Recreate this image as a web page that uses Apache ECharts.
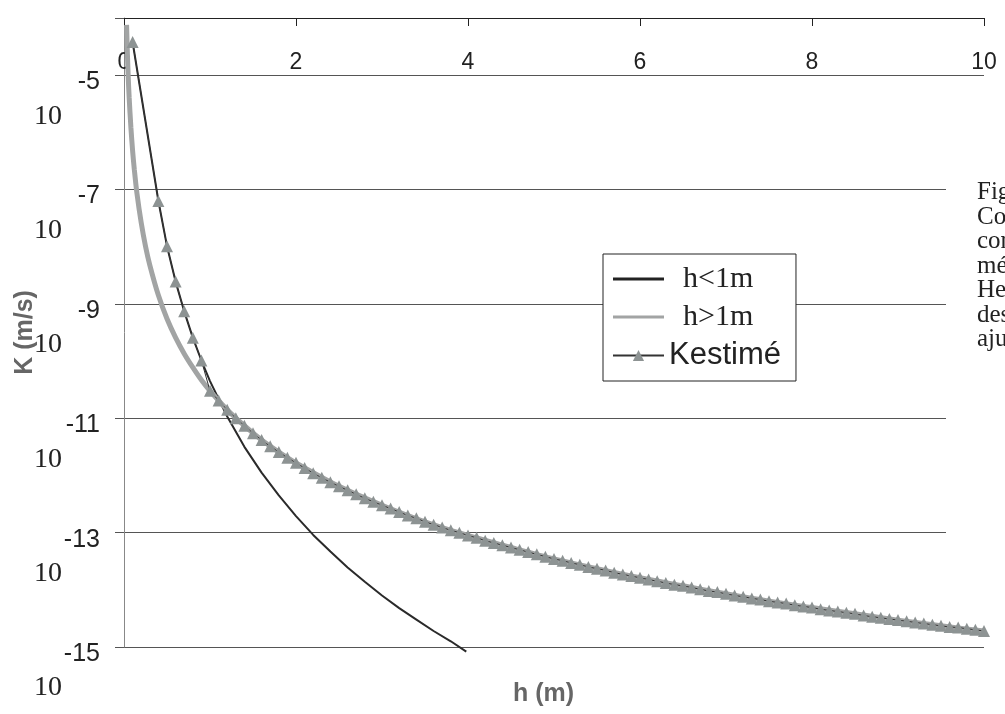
<!DOCTYPE html>
<html><head><meta charset="utf-8">
<script src="https://cdn.jsdelivr.net/npm/echarts@6/dist/echarts.min.js"></script>
<style>html,body{margin:0;padding:0;background:#fff}#c{width:1005px;height:714px}</style>
</head><body><div id="c"></div>
<script>
// x ticks (h in m) and y ticks (exponent of K in m/s)
const xTicks = [0, 2, 4, 6, 8, 10];
const yExponents = [-15, -13, -11, -9, -7, -5];

// h<1m curve: h (m) and log10 K (m/s)
const hUnder = [0.1, 0.4, 0.5, 0.6, 0.7, 0.8, 0.9, 1.0, 1.2, 1.4, 1.6, 1.8, 2.0, 2.2, 2.4, 2.6, 2.8, 3.0, 3.2, 3.4, 3.6, 3.8, 3.98];
const logKUnder = [-4.42, -7.2, -7.99, -8.61, -9.13, -9.59, -9.99, -10.35, -10.97, -11.50, -11.95, -12.35, -12.71, -13.04, -13.33, -13.61, -13.86, -14.10, -14.32, -14.52, -14.72, -14.90, -15.08];

// h>1m curve
const hOver = [0.03, 0.04, 0.05, 0.06, 0.08, 0.1, 0.12, 0.15, 0.2, 0.25, 0.3, 0.4, 0.5, 0.6, 0.7, 0.8, 0.9, 1.0, 1.2, 1.4, 1.6, 1.8, 2.0, 2.5, 3.0, 3.5, 4.0, 4.5, 5.0, 5.5, 6.0, 6.5, 7.0, 7.5, 8.0, 8.5, 9.0, 9.5, 10];
const logKOver = [-4.12, -4.65, -5.06, -5.39, -5.91, -6.32, -6.65, -7.06, -7.58, -7.99, -8.32, -8.85, -9.26, -9.59, -9.87, -10.11, -10.33, -10.52, -10.85, -11.13, -11.38, -11.59, -11.78, -12.19, -12.52, -12.81, -13.05, -13.26, -13.46, -13.63, -13.79, -13.93, -14.07, -14.20, -14.31, -14.42, -14.53, -14.63, -14.72];

// Kestimé points
const hEst = [0.1, 0.4, 0.5, 0.6, 0.7, 0.8, 0.9,
  1.0, 1.1, 1.2, 1.3, 1.4, 1.5, 1.6, 1.7, 1.8, 1.9,
  2.0, 2.1, 2.2, 2.3, 2.4, 2.5, 2.6, 2.7, 2.8, 2.9,
  3.0, 3.1, 3.2, 3.3, 3.4, 3.5, 3.6, 3.7, 3.8, 3.9,
  4.0, 4.1, 4.2, 4.3, 4.4, 4.5, 4.6, 4.7, 4.8, 4.9,
  5.0, 5.1, 5.2, 5.3, 5.4, 5.5, 5.6, 5.7, 5.8, 5.9,
  6.0, 6.1, 6.2, 6.3, 6.4, 6.5, 6.6, 6.7, 6.8, 6.9,
  7.0, 7.1, 7.2, 7.3, 7.4, 7.5, 7.6, 7.7, 7.8, 7.9,
  8.0, 8.1, 8.2, 8.3, 8.4, 8.5, 8.6, 8.7, 8.8, 8.9,
  9.0, 9.1, 9.2, 9.3, 9.4, 9.5, 9.6, 9.7, 9.8, 9.9, 10.0];
const logKEst = [-4.42, -7.2, -7.99, -8.61, -9.13, -9.59, -9.99,
  -10.52, -10.69, -10.85, -11.00, -11.13, -11.26, -11.38, -11.49, -11.59, -11.69,
  -11.78, -11.87, -11.96, -12.04, -12.12, -12.19, -12.26, -12.33, -12.40, -12.46,
  -12.52, -12.58, -12.64, -12.70, -12.75, -12.81, -12.86, -12.91, -12.96, -13.00,
  -13.05, -13.09, -13.14, -13.18, -13.22, -13.26, -13.30, -13.34, -13.38, -13.42,
  -13.46, -13.49, -13.53, -13.56, -13.60, -13.63, -13.66, -13.70, -13.73, -13.76,
  -13.79, -13.82, -13.85, -13.88, -13.91, -13.93, -13.96, -13.99, -14.02, -14.04,
  -14.07, -14.10, -14.12, -14.15, -14.17, -14.20, -14.22, -14.24, -14.27, -14.29,
  -14.31, -14.34, -14.36, -14.38, -14.40, -14.42, -14.45, -14.47, -14.49, -14.51,
  -14.53, -14.55, -14.57, -14.59, -14.61, -14.63, -14.65, -14.66, -14.68, -14.70, -14.72];

const seriesNames = ['h<1m', 'h>1m', 'Kestimé'];
const xTitle = 'h (m)';
const yTitle = 'K (m/s)';
const sideNote = ['Fig', 'Co', 'cor', 'mé', 'He', 'des', 'aju'];

const pair = (xs, ys) => xs.map((x, i) => [x, ys[i]]);

const chart = echarts.init(document.getElementById('c'), null, {renderer: 'canvas'});

const graphics = [
  {type: 'rect', shape: {x: 946, y: 150, width: 60, height: 410}, style: {fill: '#fff'}, z: 50},
  {type: 'text', left: 513, top: 682, z: 60,
   style: {text: xTitle, font: 'bold 25px "Liberation Sans", Arial, sans-serif', fill: '#666'}}
];
sideNote.forEach((t, i) => {
  graphics.push({type: 'text', left: 977, top: 180 + i * 24.5, z: 60,
    style: {text: t, font: '25px "Liberation Serif", "Times New Roman", serif', fill: '#222'}});
});

const lineIcon = 'path://M0,0H50V3H0Z';

chart.setOption({
  animation: false,
  backgroundColor: '#fff',
  grid: {left: 124, right: 21, top: 18, bottom: 67, containLabel: false, outerBoundsMode: 'none'},
  xAxis: {
    type: 'value', position: 'top', min: 0, max: 10, interval: 2,
    axisLine: {show: true, onZero: false, lineStyle: {color: '#222', width: 1}},
    axisTick: {show: true, inside: true, length: 8, lineStyle: {color: '#222'}},
    axisLabel: {inside: true, margin: 33, fontSize: 23, color: '#222',
      fontFamily: '"Liberation Sans", Arial, sans-serif',
      formatter: v => xTicks.includes(v) ? String(v) : ''},
    splitLine: {show: false}
  },
  yAxis: {
    type: 'value', min: -15, max: -4, interval: 2,
    name: yTitle, nameLocation: 'middle', nameRotate: 90, nameGap: 86, nameMoveOverlap: false,
    nameTextStyle: {fontSize: 25, fontWeight: 'bold', color: '#666', fontFamily: '"Liberation Sans", Arial, sans-serif'},
    axisLine: {show: true, onZero: false, lineStyle: {color: '#888', width: 1}},
    axisTick: {show: true, inside: false, length: 9, lineStyle: {color: '#555'}},
    splitLine: {show: true, lineStyle: {color: '#555', width: 1}},
    axisLabel: {
      margin: 24, align: 'right', verticalAlign: 'top',
      formatter: v => yExponents.includes(v) ? '{e|' + v + '}\n{b|10}' : '',
      rich: {
        e: {fontSize: 25, lineHeight: 14, width: 66, align: 'right', color: '#222',
            fontFamily: '"Liberation Sans", Arial, sans-serif'},
        b: {fontSize: 28, lineHeight: 54, width: 66, align: 'left', color: '#222',
            fontFamily: '"Liberation Serif", "Times New Roman", serif'}
      }
    }
  },
  legend: {
    orient: 'vertical', left: 603, top: 254,
    backgroundColor: '#fff', borderColor: '#222', borderWidth: 1,
    padding: [10, 15, 10, 9], itemWidth: 51, itemHeight: 14, itemGap: 8,
    textStyle: {color: '#222', lineHeight: 30},
    data: [
      {name: seriesNames[0], icon: lineIcon, itemStyle: {color: '#222'},
       textStyle: {fontSize: 30, fontFamily: '"Liberation Serif", serif', padding: [0, 0, 0, 14]}},
      {name: seriesNames[1], icon: lineIcon, itemStyle: {color: '#a2a4a4'},
       textStyle: {fontSize: 30, fontFamily: '"Liberation Serif", serif', padding: [0, 0, 0, 14]}},
      {name: seriesNames[2],
       textStyle: {fontSize: 31, fontFamily: '"Liberation Sans", Arial, sans-serif'}}
    ]
  },
  graphic: graphics,
  series: [
    {name: seriesNames[0], type: 'line', data: pair(hUnder, logKUnder), showSymbol: false, symbol: 'none',
     clip: false, lineStyle: {color: '#2a2a2a', width: 2}, itemStyle: {color: '#2a2a2a'}, z: 2},
    {name: seriesNames[1], type: 'line', data: pair(hOver, logKOver), showSymbol: false, symbol: 'none',
     smooth: 0.3, clip: true, lineStyle: {color: '#a2a4a4', width: 5}, itemStyle: {color: '#a2a4a4'}, z: 3},
    {name: seriesNames[2], type: 'line', data: pair(hEst, logKEst), symbol: 'triangle', symbolSize: 12,
     clip: false, lineStyle: {color: '#333', width: 1}, itemStyle: {color: '#8d9393'}, z: 4}
  ]
});
</script></body></html>
